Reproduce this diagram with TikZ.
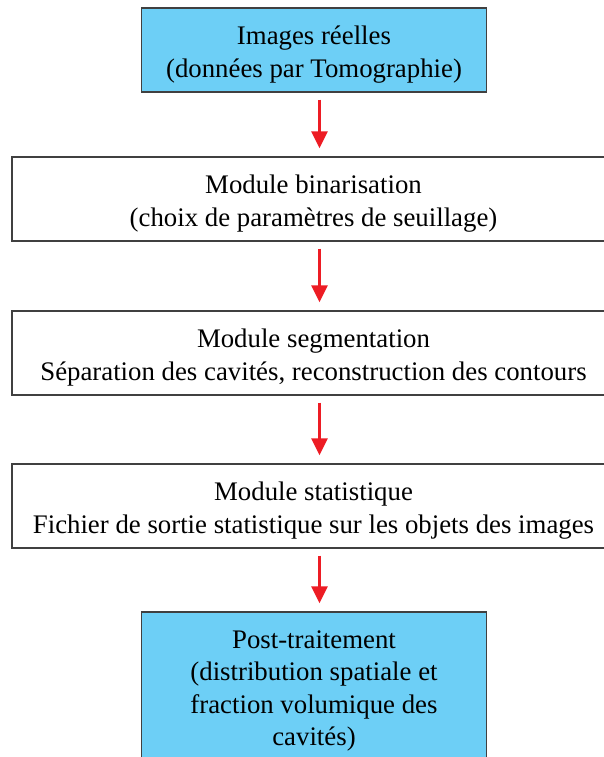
\documentclass[tikz,border=0pt]{standalone}
\usepackage{fontspec}
\setmainfont{Liberation Serif}
\usetikzlibrary{arrows.meta}

\definecolor{lightcyan}{HTML}{6DCFF6}
\definecolor{arrowred}{HTML}{ED1C24}
\newcommand\topgap{\rule{0pt}{28pt}}

\begin{document}
\begin{tikzpicture}[x=1pt,y=-1pt]
\useasboundingbox (0,0) rectangle (603,757);

\begin{scope} % Boxes of the processing chain
  [box/.style={draw=black!75,line width=1.3pt,align=center,inner sep=0pt,
    minimum height=84pt,font=\fontsize{26.8}{32.5}\selectfont},
   blue box/.style={box,fill=lightcyan,minimum width=345pt},
   wide box/.style={box,minimum width=603pt}]
  \node[blue box] (images) at (314,50)
    {\topgap Images réelles\\(données par Tomographie)};
  \node[wide box] (binar) at (313.5,199)
    {\topgap Module binarisation\\(choix de paramètres de seuillage)};
  \node[wide box] (segm) at (313.5,353)
    {\topgap Module segmentation\\Séparation des cavités, reconstruction des contours};
  \node[wide box] (stat) at (313.5,506)
    {\topgap Module statistique\\Fichier de sortie statistique sur les objets des images};
  \node[blue box,minimum height=148pt] (post) at (314,686)
    {\topgap Post-traitement\\(distribution spatiale et\\fraction volumique des\\cavités)};
\end{scope}

\coordinate (ax) at (319.5,0);

\begin{scope} % Red arrows between the boxes
  [arr/.style={draw=arrowred,line width=3pt,
    -{Triangle[width=16pt,length=17pt]}}]
  \foreach \a/\b in {images/binar,binar/segm,segm/stat,stat/post} {
    \draw[arr] ([yshift=-7pt]\a.south -| ax) -- ([yshift=8pt]\b.north -| ax);
  }
\end{scope}

\end{tikzpicture}
\end{document}
